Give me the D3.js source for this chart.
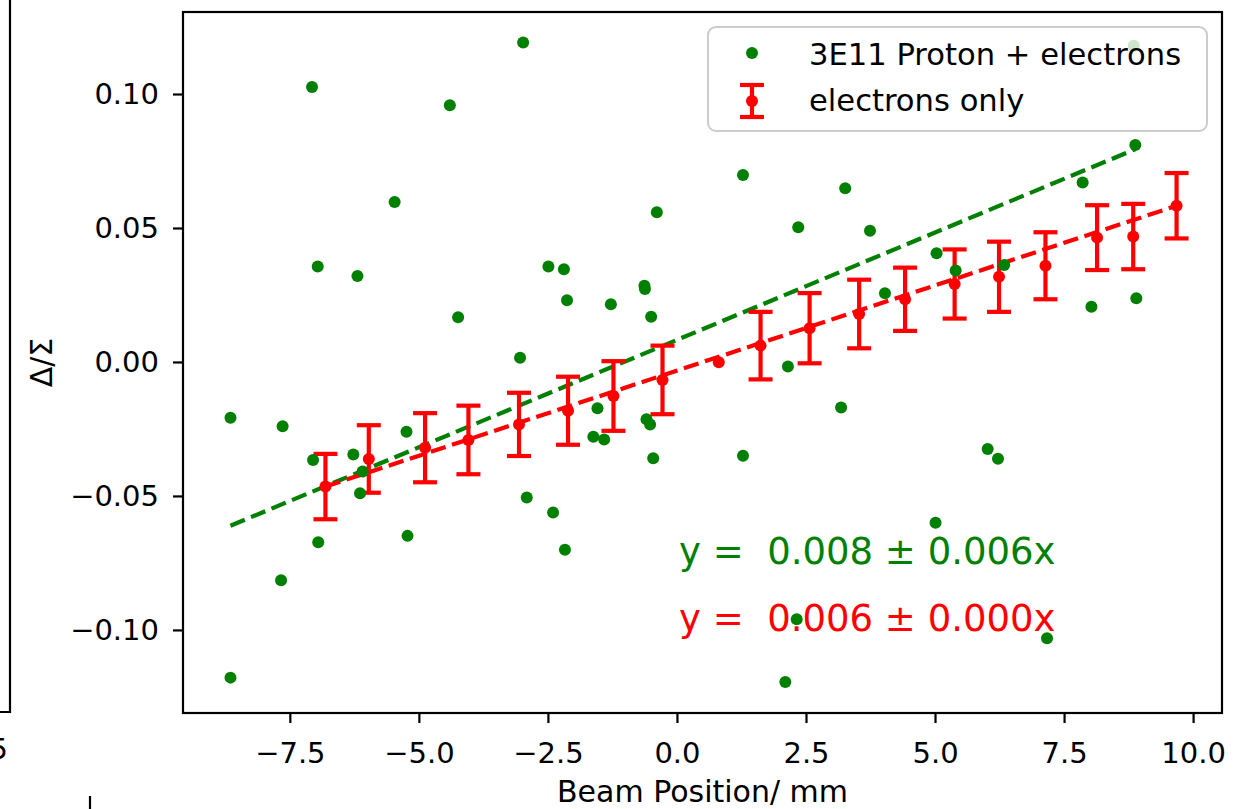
<!DOCTYPE html>
<html>
<head>
<meta charset="utf-8">
<script src="https://cdn.jsdelivr.net/npm/d3@7"></script>
<style>
  html, body { margin: 0; padding: 0; background: #fff; }
  svg { display: block; }
  text { font-family: "DejaVu Sans", sans-serif; }
</style>
</head>
<body>
<svg id="chart" width="1250" height="809"></svg>
<script>
// ---- data ----
const greenX = [-7.07, -2.98, -4.40, -5.47, -6.96, -6.19, -2.49, -2.19, -0.39, -0.63, -0.62, -2.13, -1.28, -4.24, -0.50, -3.04,
  1.28, 3.26, 2.35, 3.74, 7.86, 8.88, 5.03, 5.40, 6.34, 4.03, 8.03, 8.90, 2.15, 8.85,
  -8.65, -7.64, -7.05, -6.27, -6.09, -6.14, -5.24, -6.95, -7.67, -5.22, -8.65, -2.91, -2.40, -2.17, -1.54, -1.62, -1.41, -0.59, -0.52, -0.46,
  1.28, 3.18, 6.02, 6.22, 5.01, 2.32, 2.10, 7.17];
const greenY = [0.1026, 0.1192, 0.0958, 0.0597, 0.0356, 0.0321, 0.0356, 0.0346, 0.0559, 0.0284, 0.0272, 0.0230, 0.0215, 0.0167, 0.0169, 0.0016,
  0.0698, 0.0648, 0.0503, 0.0490, 0.0670, 0.0810, 0.0406, 0.0341, 0.0362, 0.0256, 0.0206, 0.0238, -0.0017, 0.1180,
  -0.0208, -0.0240, -0.0366, -0.0345, -0.0409, -0.0490, -0.0260, -0.0673, -0.0815, -0.0649, -0.1178, -0.0506, -0.0562, -0.0701, -0.0173, -0.0279, -0.0289, -0.0214, -0.0233, -0.0359,
  -0.0350, -0.0170, -0.0325, -0.0361, -0.0600, -0.0960, -0.1194, -0.1031];

const redX = [-6.81, -5.97, -4.88, -4.04, -3.06, -2.11, -1.23, -0.28, 0.81, 1.62, 2.57, 3.53, 4.42, 5.38, 6.24, 7.14, 8.14, 8.84, 9.68];
const redY = [-0.0465, -0.0362, -0.0320, -0.0291, -0.0233, -0.0182, -0.0127, -0.0067, -0.0001, 0.0061, 0.0126, 0.0179, 0.0234, 0.0291, 0.0318, 0.0359, 0.0464, 0.0468, 0.0583];
const redErr = [0.0122, 0.0126, 0.0129, 0.0128, 0.0118, 0.0127, 0.0130, 0.0128, 0.0, 0.0126, 0.0131, 0.0128, 0.0118, 0.0129, 0.0131, 0.0125, 0.0121, 0.0122, 0.0122];

const fitGreenX = [-8.65, 8.88];
const fitGreenY = [-0.0611, 0.0794];
const fitRedX = [-6.81, 9.68];
const fitRedY = [-0.0465, 0.0583];

const xTicks = [-7.5, -5.0, -2.5, 0.0, 2.5, 5.0, 7.5, 10.0];
const yTicks = [-0.10, -0.05, 0.00, 0.05, 0.10];

const legendLabels = ["3E11 Proton + electrons", "electrons only"];
const eqGreen = "y =  0.008 ± 0.006x";
const eqRed = "y =  0.006 ± 0.000x";
const xLabel = "Beam Position/ mm";
const yLabel = "Δ/Σ";

// ---- layout ----
const L = 183, R = 1222, T = 12, B = 713;
const GREEN = "#008000", RED = "#ff0000";

const svg = d3.select("#chart");
svg.append("rect").attr("width", 1250).attr("height", 809).attr("fill", "#fff");

const x = d3.scaleLinear().domain([-9.57, 10.56]).range([L, R]);
const y = d3.scaleLinear().domain([-0.131, 0.1306]).range([B, T]);

// neighbouring-figure fragments at the left edge
svg.append("path").attr("d", "M10,0 L10,712 L0,712").attr("fill", "none").attr("stroke", "#000").attr("stroke-width", 2.2);
svg.append("text").attr("x", 8).attr("y", 759).attr("text-anchor", "end").attr("font-size", 29).attr("fill", "#000").text("5");
svg.append("line").attr("x1", 90).attr("x2", 90).attr("y1", 796).attr("y2", 809).attr("stroke", "#000").attr("stroke-width", 2.2);

// clip
svg.append("clipPath").attr("id", "clip").append("rect").attr("x", L).attr("y", T).attr("width", R - L).attr("height", B - T);
const plot = svg.append("g").attr("clip-path", "url(#clip)");

// equations (under the points)
plot.append("text").attr("x", 679).attr("y", 564).attr("font-size", 37).attr("fill", GREEN)
  .style("white-space", "pre").attr("xml:space", "preserve").text(eqGreen);
plot.append("text").attr("x", 679).attr("y", 631).attr("font-size", 37).attr("fill", RED)
  .style("white-space", "pre").attr("xml:space", "preserve").text(eqRed);

// fit lines
const line = d3.line().x(d => x(d[0])).y(d => y(d[1]));
plot.append("path").datum(d3.zip(fitGreenX, fitGreenY)).attr("d", line)
  .attr("fill", "none").attr("stroke", GREEN).attr("stroke-width", 4.2).attr("stroke-dasharray", "15.5,6.7");
plot.append("path").datum(d3.zip(fitRedX, fitRedY)).attr("d", line)
  .attr("fill", "none").attr("stroke", RED).attr("stroke-width", 4.2).attr("stroke-dasharray", "15.5,6.7");

// red error bars
const redData = redX.map((v, i) => ({ x: v, y: redY[i], e: redErr[i] }));
const eb = plot.append("g").selectAll("g").data(redData).join("g");
eb.filter(d => d.e > 0).append("line")
  .attr("x1", d => x(d.x)).attr("x2", d => x(d.x))
  .attr("y1", d => y(d.y - d.e)).attr("y2", d => y(d.y + d.e))
  .attr("stroke", RED).attr("stroke-width", 4.2);
eb.filter(d => d.e > 0).append("line")
  .attr("x1", d => x(d.x) - 12).attr("x2", d => x(d.x) + 12)
  .attr("y1", d => y(d.y - d.e)).attr("y2", d => y(d.y - d.e))
  .attr("stroke", RED).attr("stroke-width", 4.2);
eb.filter(d => d.e > 0).append("line")
  .attr("x1", d => x(d.x) - 12).attr("x2", d => x(d.x) + 12)
  .attr("y1", d => y(d.y + d.e)).attr("y2", d => y(d.y + d.e))
  .attr("stroke", RED).attr("stroke-width", 4.2);
eb.append("circle").attr("cx", d => x(d.x)).attr("cy", d => y(d.y)).attr("r", 6).attr("fill", RED);

// green points
plot.append("g").selectAll("circle").data(d3.zip(greenX, greenY)).join("circle")
  .attr("cx", d => x(d[0])).attr("cy", d => y(d[1])).attr("r", 6).attr("fill", GREEN);

// axes
const xAxis = svg.append("g").attr("transform", `translate(0,${B})`)
  .call(d3.axisBottom(x).tickValues(xTicks).tickFormat(d3.format(".1f")).tickSize(10).tickPadding(19));
const yAxis = svg.append("g").attr("transform", `translate(${L},0)`)
  .call(d3.axisLeft(y).tickValues(yTicks).tickFormat(d3.format(".2f")).tickSize(10).tickPadding(14));
[xAxis, yAxis].forEach(a => {
  a.select(".domain").remove();
  a.selectAll(".tick line").attr("stroke", "#000").attr("stroke-width", 2.2);
  a.selectAll(".tick text").attr("font-size", 29).attr("fill", "#000").attr("font-family", "DejaVu Sans, sans-serif");
});

// frame
svg.append("rect").attr("x", L).attr("y", T).attr("width", R - L).attr("height", B - T)
  .attr("fill", "none").attr("stroke", "#000").attr("stroke-width", 2.2);

// axis labels
svg.append("text").attr("x", (L + R) / 2).attr("y", 802).attr("text-anchor", "middle")
  .attr("font-size", 30).attr("fill", "#000").text(xLabel);
svg.append("text").attr("transform", `translate(52,${(T + B) / 2}) rotate(-90)`).attr("text-anchor", "middle")
  .attr("font-size", 30).attr("fill", "#000").text(yLabel);

// legend
const lg = svg.append("g");
lg.append("rect").attr("x", 708).attr("y", 27).attr("width", 499).attr("height", 104).attr("rx", 8)
  .attr("fill", "#fff").attr("fill-opacity", 0.8).attr("stroke", "#cccccc").attr("stroke-width", 2);
lg.append("circle").attr("cx", 752).attr("cy", 53).attr("r", 6).attr("fill", GREEN);
lg.append("line").attr("x1", 752).attr("x2", 752).attr("y1", 85).attr("y2", 117).attr("stroke", RED).attr("stroke-width", 4.2);
lg.append("line").attr("x1", 740).attr("x2", 764).attr("y1", 85).attr("y2", 85).attr("stroke", RED).attr("stroke-width", 4.2);
lg.append("line").attr("x1", 740).attr("x2", 764).attr("y1", 117).attr("y2", 117).attr("stroke", RED).attr("stroke-width", 4.2);
lg.append("circle").attr("cx", 752).attr("cy", 101).attr("r", 6).attr("fill", RED);
lg.append("text").attr("x", 809).attr("y", 65).attr("font-size", 30.6).attr("fill", "#000").text(legendLabels[0]);
lg.append("text").attr("x", 809).attr("y", 111).attr("font-size", 30.6).attr("fill", "#000").text(legendLabels[1]);
</script>
</body>
</html>
